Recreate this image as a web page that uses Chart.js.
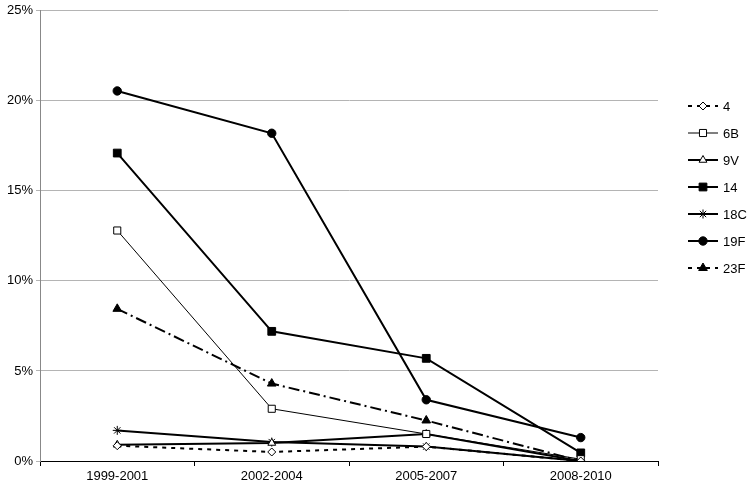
<!DOCTYPE html>
<html>
<head>
<meta charset="utf-8">
<script src="https://cdn.jsdelivr.net/npm/chart.js@4/dist/chart.umd.min.js"></script>
<style>
html,body{margin:0;padding:0;background:#fff;}
#wrap{width:750px;height:486px;}
</style>
</head>
<body>
<div id="wrap"><canvas id="c" width="750" height="486"></canvas></div>
<script>
const categories = ['1999-2001', '2002-2004', '2005-2007', '2008-2010'];
const seriesNames = ['4', '6B', '9V', '14', '18C', '19F', '23F'];
const s4   = [0.85, 0.5, 0.8, 0.0];
const s6B  = [12.8, 2.9, 1.5, 0.1];
const s9V  = [0.9, 1.0, 1.5, 0.0];
const s14  = [17.1, 7.2, 5.7, 0.45];
const s18C = [1.7, 1.05, 0.8, 0.0];
const s19F = [20.55, 18.2, 3.4, 1.3];
const s23F = [8.45, 4.3, 2.25, 0.0];
const yTicks = [0, 5, 10, 15, 20, 25];

const styles = [
  {data: s4,   dash: [4, 5],        width: 2, ps: 'rectRot',  r: 4,   fill: '#fff'},
  {data: s6B,  dash: [],            width: 1, ps: 'rect',     r: 5,   fill: '#fff'},
  {data: s9V,  dash: [],            width: 2, ps: 'triangle', r: 4.5, fill: '#fff'},
  {data: s14,  dash: [],            width: 2, ps: 'rect',     r: 5.5, fill: '#000'},
  {data: s18C, dash: [],            width: 2, ps: 'star',     r: 4.5, fill: '#000'},
  {data: s19F, dash: [],            width: 2, ps: 'circle',   r: 4.2, fill: '#000'},
  {data: s23F, dash: [11, 4, 2, 4], width: 2, ps: 'triangle', r: 5,   fill: '#000'}
];

const datasets = seriesNames.map((n, i) => ({
  label: n,
  data: styles[i].data,
  borderColor: '#000',
  borderWidth: styles[i].width,
  borderDash: styles[i].dash,
  pointStyle: styles[i].ps,
  pointRadius: styles[i].r,
  pointBackgroundColor: styles[i].fill,
  pointBorderColor: '#000',
  pointBorderWidth: 1,
  tension: 0,
  fill: false
}));

function drawMarker(ctx, ds, x, y) {
  ctx.save();
  ctx.fillStyle = ds.pointBackgroundColor;
  ctx.strokeStyle = '#000';
  ctx.lineWidth = 1;
  Chart.helpers.drawPoint(ctx, {pointStyle: ds.pointStyle, radius: ds.pointRadius, rotation: 0, borderWidth: 1}, x, y);
  ctx.restore();
}

const legendPlugin = {
  id: 'customLegend',
  afterDraw(chart) {
    const ctx = chart.ctx;
    ctx.save();
    const x0 = 688, x1 = 718, mx = 703;
    let y = 106;
    chart.data.datasets.forEach((ds) => {
      ctx.strokeStyle = '#000';
      ctx.lineWidth = ds.borderWidth;
      ctx.setLineDash(ds.borderDash && ds.borderDash.length ? [4, 5] : []);
      ctx.beginPath();
      ctx.moveTo(x0, y);
      ctx.lineTo(x1, y);
      ctx.stroke();
      ctx.setLineDash([]);
      drawMarker(ctx, ds, mx, y);
      ctx.fillStyle = '#000';
      ctx.font = '13px "Liberation Sans", Arial, sans-serif';
      ctx.textBaseline = 'middle';
      ctx.textAlign = 'left';
      ctx.fillText(ds.label, 723, y + 1);
      y += 27;
    });
    ctx.restore();
  }
};

new Chart(document.getElementById('c'), {
  type: 'line',
  data: {labels: categories, datasets: datasets},
  plugins: [legendPlugin],
  options: {
    responsive: false,
    animation: false,
    devicePixelRatio: 1,
    layout: {padding: {top: 0, right: 92, left: 0, bottom: 0}},
    plugins: {legend: {display: false}, tooltip: {enabled: false}},
    scales: {
      x: {
        offset: true,
        grid: {offset: true, drawOnChartArea: false, drawTicks: true, tickLength: 5, color: '#000'},
        border: {color: '#000', width: 1},
        ticks: {color: '#000', font: {family: '"Liberation Sans", Arial, sans-serif', size: 13}, padding: 3, maxRotation: 0},
        afterFit(s) { s.height = 25; }
      },
      y: {
        min: 0, max: 25,
        afterBuildTicks(s) { s.ticks = yTicks.map(v => ({value: v})); },
        grid: {color: '#b4b4b4', tickLength: 4, lineWidth: 1},
        border: {color: '#888', width: 1},
        ticks: {color: '#000', font: {family: '"Liberation Sans", Arial, sans-serif', size: 13}, padding: 3, callback: v => v + '%'},
        afterFit(s) { s.width = 40; }
      }
    }
  }
});
</script>
</body>
</html>
